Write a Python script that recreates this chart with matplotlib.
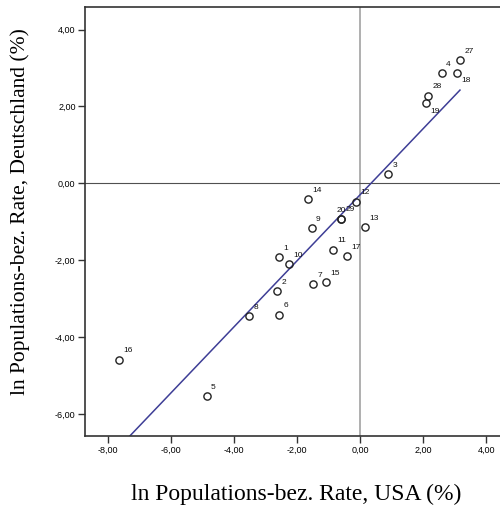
import numpy as np
import matplotlib
matplotlib.use("Agg")
import matplotlib.pyplot as plt
from matplotlib.ticker import FuncFormatter

# case numbers and ln rates
case_ids = [1, 2, 3, 4, 5, 6, 7, 8, 9, 10, 11, 12, 13, 14, 15, 16, 17, 18, 19, 20, 27, 28, 29]
usa = [-2.56, -2.63, 0.90, 2.59, -4.86, -2.56, -1.48, -3.51, -1.53, -2.24, -0.85, -0.13,
       0.17, -1.64, -1.08, -7.64, -0.42, 3.07, 2.09, -0.60, 3.17, 2.16, -0.59]
deutschland = [-1.92, -2.80, 0.24, 2.87, -5.54, -3.41, -2.62, -3.45, -1.17, -2.10, -1.73, -0.48,
               -1.14, -0.41, -2.57, -4.58, -1.89, 2.88, 2.08, -0.93, 3.20, 2.28, -0.92]

x_ticks = [-8, -6, -4, -2, 0, 2, 4]
y_ticks = [-6, -4, -2, 0, 2, 4]

X_LABEL = "ln Populations-bez. Rate, USA (%)"
Y_LABEL = "ln Populations-bez. Rate, Deutschland (%)"

fig = plt.figure(figsize=(5.0, 5.07), dpi=100)
ax = fig.add_axes([0.1706, 0.140, 0.8294, 0.846])

x = np.array(usa)
y = np.array(deutschland)

# reference lines at zero
ax.axvline(0, color="#9a9a9a", lw=1.1, zorder=1)
ax.axhline(0, color="#505050", lw=0.8, zorder=1)

# linear fit over data range
slope, icpt = np.polyfit(x, y, 1)
xs = np.array([x.min(), x.max()])
ax.plot(xs, slope * xs + icpt, color="#3e3e96", lw=1.1, zorder=2)

ax.plot(x, y, linestyle="none", marker="o", markersize=5.2, markerfacecolor="none",
        markeredgecolor="#222222", markeredgewidth=1.0, zorder=3)

# labels sit upper right, a few below right
below = {18, 19}
for cid, xi, yi in zip(case_ids, x, y):
    dx, dy, ha = 3, 6.5, "left"
    if cid == 20:
        ha = "right"
        dx = 3.5
    if cid in below:
        dy = -6
    ax.annotate(str(cid), (xi, yi), xytext=(dx, dy), textcoords="offset points",
                ha=ha, va="center", fontsize=6, family="Liberation Sans", color="#111111")

ax.set_xlim(-8.72, 4.44)
ax.set_ylim(-6.57, 4.585)
ax.set_xticks(x_ticks)
ax.set_yticks(y_ticks)
fmt = FuncFormatter(lambda v, p: f"{v:.2f}".replace(".", ","))
ax.xaxis.set_major_formatter(fmt)
ax.yaxis.set_major_formatter(fmt)
ax.tick_params(direction="out", length=5, width=1.0, color="#333333", labelsize=6.5, pad=2)
for lab in ax.get_xticklabels() + ax.get_yticklabels():
    lab.set_family("Liberation Sans")

ax.spines["right"].set_visible(False)
for s in ["left", "bottom", "top"]:
    ax.spines[s].set_color("#333333")
    ax.spines[s].set_linewidth(1.2)

fig.text(296 / 500, 1 - 494 / 507, X_LABEL, ha="center", va="center",
         family="Liberation Serif", fontsize=17)
fig.text(20 / 500, 1 - 212 / 507, Y_LABEL, ha="center", va="center", rotation=90,
         family="Liberation Serif", fontsize=15.5)

fig.savefig("out.png", dpi=100)
